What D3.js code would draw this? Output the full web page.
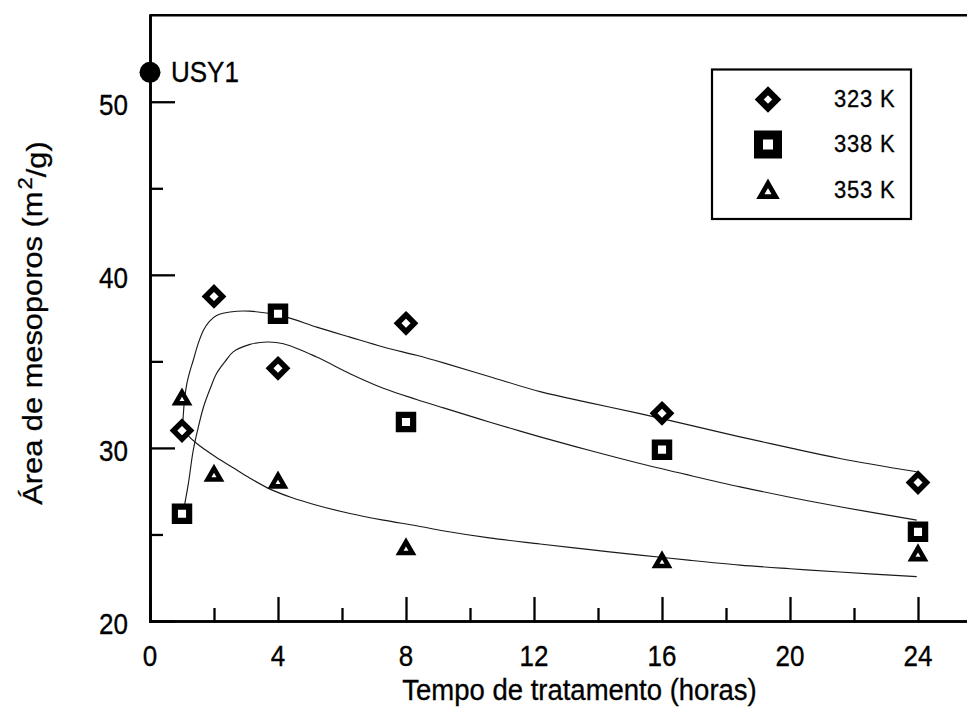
<!DOCTYPE html>
<html>
<head>
<meta charset="utf-8">
<script src="https://cdn.jsdelivr.net/npm/d3@7"></script>
<style>
  html, body { margin: 0; padding: 0; background: #fff; }
  svg { display: block; }
  text { font-family: "Liberation Sans", Arial, Helvetica, sans-serif; fill: #000; stroke: #000; stroke-width: 0.3px; }
</style>
</head>
<body>
<svg id="chart" width="967" height="710"></svg>
<script>
// Measured mesopore area (m2/g) versus treatment time (hours)
const hours323 = [1, 2, 4, 8, 16, 24];
const area323  = [31.0, 38.75, 34.6, 37.2, 32.0, 28.0];
const hours338 = [1, 4, 8, 16, 24];
const area338  = [26.2, 37.75, 31.5, 29.9, 25.15];
const hours353 = [1, 2, 4, 8, 16, 24];
const area353  = [32.9, 28.5, 28.1, 24.25, 23.5, 23.9];

// Parent zeolite reference point
const refLabel = "USY1";
const refHours = 0;
const refArea  = 51.7;

// Fitted trend curves, [hours, area]
const fit323 = [[1.03,31.6],[1.08,32.8],[1.15,33.7],[1.25,34.45],[1.35,35.05],[1.5,36.0],[1.67,36.8],
  [1.85,37.3],[2.08,37.65],[2.5,37.85],[3.1,37.9],[4.17,37.6],[5.21,36.98],[6.25,36.4],[7.29,35.83],
  [8.33,35.35],[9.2,34.9],[10.7,34.07],[12.19,33.25],[13.75,32.6],[15.31,31.98],[16.9,31.3],
  [18.44,30.64],[20.0,30.0],[21.56,29.39],[23.96,28.62]];
const fit338 = [[1.05,26.4],[1.09,26.8],[1.2,27.95],[1.35,29.85],[1.51,31.2],[1.67,32.35],[1.875,33.4],
  [2.08,34.3],[2.35,35.0],[2.6,35.55],[3.125,35.98],[3.65,36.12],[4.17,36.02],[5.21,35.25],
  [6.25,34.29],[7.29,33.45],[8.33,32.8],[9.2,32.3],[10.6,31.5],[12.19,30.64],[13.75,29.85],
  [15.31,29.1],[16.9,28.4],[18.44,27.75],[20.0,27.15],[21.56,26.6],[23.96,25.83]];
const fit353 = [[1.02,31.15],[1.2,30.7],[1.5,30.2],[2.08,29.45],[2.6,28.85],[3.125,28.25],[3.75,27.62],
  [4.4,27.15],[5.21,26.69],[6.25,26.21],[7.29,25.83],[8.33,25.5],[9.2,25.2],[10.6,24.8],[12.19,24.45],
  [13.75,24.12],[15.31,23.81],[16.9,23.5],[18.44,23.23],[20.0,23.02],[21.56,22.83],[23.96,22.56]];

// Axis ticks and labels
const xMajorTicks = [0, 4, 8, 12, 16, 20, 24];
const xMinorTicks = [2, 6, 10, 14, 18, 22];
const yMajorTicks = [20, 30, 40, 50];
const yMinorTicks = [25, 35, 45];

const xTitle = "Tempo de tratamento (horas)";
const legendLabels = ["323 K", "338 K", "353 K"];

// ---------------------------------------------------------------
const svg = d3.select("#chart");
const x = d3.scaleLinear().domain([0, 25.6]).range([150, 969.2]);
const y = d3.scaleLinear().domain([20, 55]).range([621, 15.2]);

const ink = "#000";
const TEXT_STRETCH = 1.1;

function label(g, px, py, str, size, anchor) {
  return g.append("text")
    .attr("transform", `translate(${px},${py}) scale(1,${TEXT_STRETCH})`)
    .attr("text-anchor", anchor || "start")
    .style("font-size", size + "px")
    .text(str);
}

// Triangle centred on its bounding box; size sets the inradius like d3.symbolTriangle
const triangleBox = {
  draw(context, size) {
    const r = Math.sqrt(size / (3 * Math.sqrt(3)));
    const s3 = Math.sqrt(3);
    const off = r / 2;
    context.moveTo(0, -2 * r + off);
    context.lineTo(s3 * r, r + off);
    context.lineTo(-s3 * r, r + off);
    context.closePath();
  }
};

// ---- axes ----
const xAxisMajor = d3.axisBottom(x).tickValues(xMajorTicks).tickSize(-24).tickSizeOuter(0).tickFormat("");
const xAxisMinor = d3.axisBottom(x).tickValues(xMinorTicks).tickSize(-13).tickSizeOuter(0).tickFormat("");
const yAxisMajor = d3.axisLeft(y).tickValues(yMajorTicks).tickSize(-25).tickSizeOuter(0).tickFormat("");
const yAxisMinor = d3.axisLeft(y).tickValues(yMinorTicks).tickSize(-13).tickSizeOuter(0).tickFormat("");

function styleAxis(g) {
  g.select(".domain").attr("stroke", ink).attr("stroke-width", 2.6).attr("stroke-linecap", "square");
  g.selectAll(".tick line").attr("stroke", ink).attr("stroke-width", 2.3);
}

svg.append("g").attr("transform", `translate(0,${y(20)})`).call(xAxisMajor).call(styleAxis);
svg.append("g").attr("transform", `translate(0,${y(20)})`).call(xAxisMinor).call(styleAxis);
svg.append("g").attr("transform", `translate(${x(0)},0)`).call(yAxisMajor).call(styleAxis);
svg.append("g").attr("transform", `translate(${x(0)},0)`).call(yAxisMinor).call(styleAxis);

// top frame line
svg.append("line")
  .attr("x1", x(0)).attr("x2", x.range()[1])
  .attr("y1", y(55)).attr("y2", y(55))
  .attr("stroke", ink).attr("stroke-width", 2.4);

// tick labels
const labels = svg.append("g");
xMajorTicks.forEach(t => label(labels, x(t), 666, String(t), 26, "middle"));
yMajorTicks.forEach(t => label(labels, 128, y(t) + 13, String(t), 26, "end"));

// axis titles
label(svg, 579.5, 700, xTitle, 27.5, "middle");

const yTitle = svg.append("text")
  .attr("transform", `translate(41.5,323) rotate(-90) scale(${TEXT_STRETCH},1)`)
  .attr("text-anchor", "middle")
  .style("font-size", "28px");
yTitle.append("tspan").text("Área de mesoporos (m");
yTitle.append("tspan").attr("dx", "2").attr("dy", "-0.5em").style("font-size", "20px").text("2");
yTitle.append("tspan").attr("dy", "0.5em").text("/g)");

// ---- fitted curves ----
const line = d3.line()
  .x(d => x(d[0]))
  .y(d => y(d[1]))
  .curve(d3.curveCatmullRom.alpha(0.5));

[fit323, fit338, fit353].forEach(f => {
  svg.append("path")
    .attr("d", line(f))
    .attr("fill", "none")
    .attr("stroke", "#1a1a1a")
    .attr("stroke-width", 1.15);
});

// ---- markers ----
const series = [
  { hours: hours323, area: area323, type: d3.symbolDiamond2, size: 184, sw: 5.5,
    legendSize: 195, legendSw: 6.5 },
  { hours: hours338, area: area338, type: d3.symbolSquare, size: 204, sw: 6.2,
    legendSize: 361, legendSw: 9 },
  { hours: hours353, area: area353, type: triangleBox, size: 72, sw: 4.6,
    legendSize: 100, legendSw: 4.8 }
];

series.forEach(s => {
  const sym = d3.symbol().type(s.type).size(s.size);
  svg.append("g").selectAll("path")
    .data(s.hours.map((h, i) => [h, s.area[i]]))
    .join("path")
    .attr("transform", d => `translate(${x(d[0])},${y(d[1])})`)
    .attr("d", sym)
    .attr("fill", "#fff")
    .attr("stroke", ink)
    .attr("stroke-width", s.sw)
    .attr("stroke-linejoin", "miter");
});

// reference point
svg.append("circle")
  .attr("cx", x(refHours)).attr("cy", y(refArea)).attr("r", 10.5)
  .attr("fill", ink);
label(svg, 171, 81.5, refLabel, 26, "start");

// ---- legend ----
const legend = svg.append("g");
legend.append("rect")
  .attr("x", 712).attr("y", 69.5).attr("width", 199).attr("height", 149.5)
  .attr("fill", "#fff").attr("stroke", ink).attr("stroke-width", 2.2);

const rowY = [99.5, 144.5, 190];
series.forEach((s, i) => {
  legend.append("path")
    .attr("transform", `translate(768,${rowY[i]})`)
    .attr("d", d3.symbol().type(s.type).size(s.legendSize))
    .attr("fill", "#fff")
    .attr("stroke", ink)
    .attr("stroke-width", s.legendSw)
    .attr("stroke-linejoin", "miter");
  label(legend, 834, rowY[i] + 7.5, legendLabels[i], 22, "start")
    .style("letter-spacing", "0.8px");
});
</script>
</body>
</html>
